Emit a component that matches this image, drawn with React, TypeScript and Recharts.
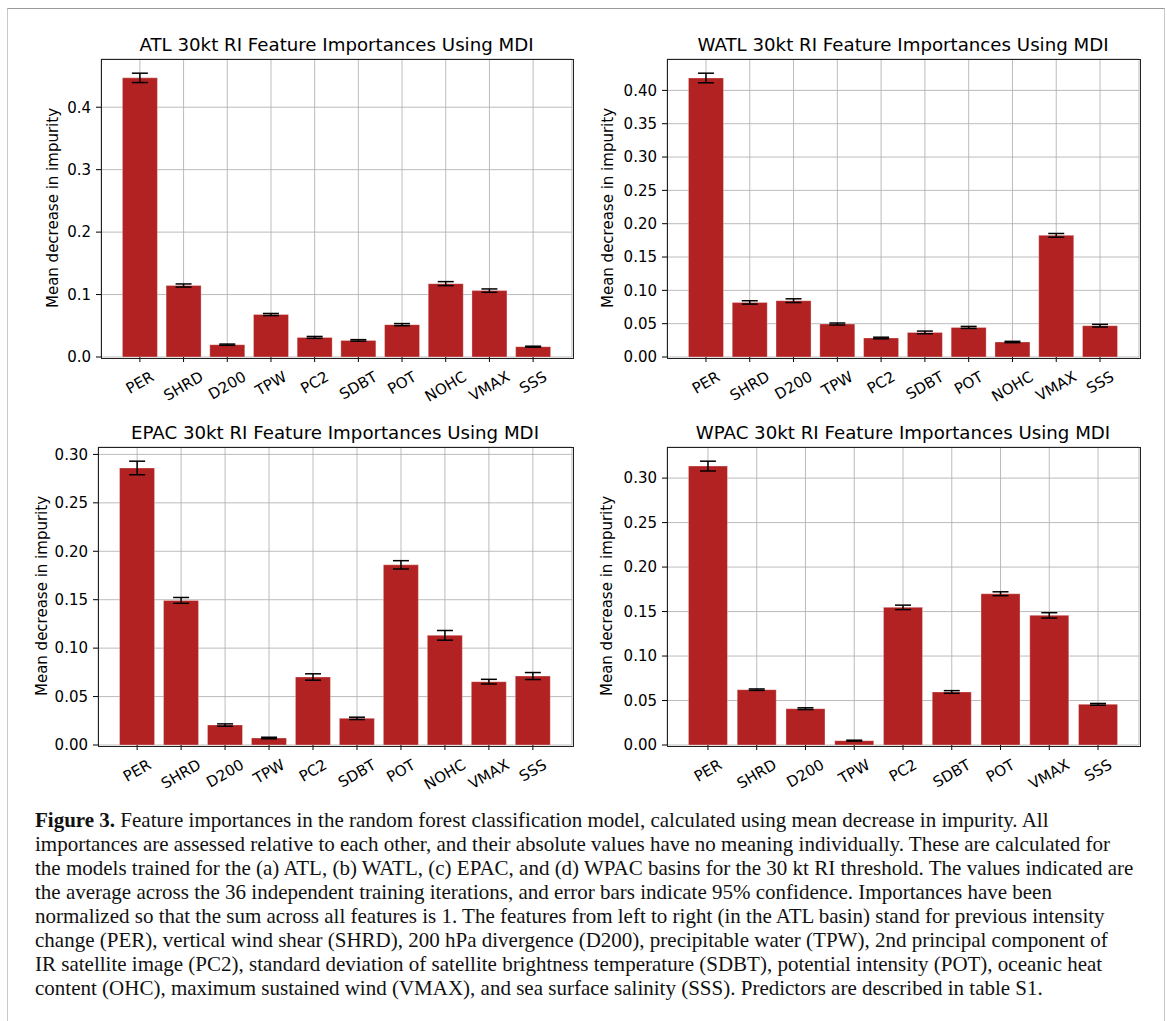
import React from "react";
import { BarChart, Bar, Line, ErrorBar, XAxis, YAxis, CartesianGrid } from "recharts";

// feature order per basin
const atlFeatures = ["PER", "SHRD", "D200", "TPW", "PC2", "SDBT", "POT", "NOHC", "VMAX", "SSS"];
const watlFeatures = ["PER", "SHRD", "D200", "TPW", "PC2", "SDBT", "POT", "NOHC", "VMAX", "SSS"];
const epacFeatures = ["PER", "SHRD", "D200", "TPW", "PC2", "SDBT", "POT", "NOHC", "VMAX", "SSS"];
const wpacFeatures = ["PER", "SHRD", "D200", "TPW", "PC2", "SDBT", "POT", "VMAX", "SSS"];

// mean decrease in impurity (average of 36 runs)
const atlValues = [0.447, 0.1145, 0.0197, 0.068, 0.0314, 0.0266, 0.0518, 0.1175, 0.1063, 0.0165];
const watlValues = [0.4186, 0.0819, 0.0845, 0.0495, 0.0285, 0.0369, 0.0444, 0.0225, 0.1825, 0.047];
const epacValues = [0.286, 0.1493, 0.0206, 0.0072, 0.0702, 0.0275, 0.186, 0.1132, 0.0654, 0.0712];
const wpacValues = [0.3135, 0.0622, 0.0408, 0.0049, 0.1547, 0.0596, 0.17, 0.1457, 0.0457];

// 95% confidence half-widths
const atlErrors = [0.0075, 0.0025, 0.001, 0.0017, 0.0015, 0.0012, 0.0017, 0.0032, 0.0027, 0.0008];
const watlErrors = [0.0072, 0.0025, 0.0028, 0.0015, 0.0012, 0.002, 0.0015, 0.001, 0.0028, 0.002];
const epacErrors = [0.007, 0.003, 0.0012, 0.0008, 0.0033, 0.0012, 0.0043, 0.005, 0.0024, 0.0036];
const wpacErrors = [0.0055, 0.0008, 0.001, 0.0005, 0.0025, 0.0015, 0.0022, 0.003, 0.001];

const atlTicks = [0, 0.1, 0.2, 0.3, 0.4];
const watlTicks = [0, 0.05, 0.1, 0.15, 0.2, 0.25, 0.3, 0.35, 0.4];
const epacTicks = [0, 0.05, 0.1, 0.15, 0.2, 0.25, 0.3];
const wpacTicks = [0, 0.05, 0.1, 0.15, 0.2, 0.25, 0.3];

const captionLines = [
  "importances are assessed relative to each other, and their absolute values have no meaning individually. These are calculated for",
  "the models trained for the (a) ATL, (b) WATL, (c) EPAC, and (d) WPAC basins for the 30 kt RI threshold. The values indicated are",
  "the average across the 36 independent training iterations, and error bars indicate 95% confidence. Importances have been",
  "normalized so that the sum across all features is 1. The features from left to right (in the ATL basin) stand for previous intensity",
  "change (PER), vertical wind shear (SHRD), 200 hPa divergence (D200), precipitable water (TPW), 2nd principal component of",
  "IR satellite image (PC2), standard deviation of satellite brightness temperature (SDBT), potential intensity (POT), oceanic heat",
  "content (OHC), maximum sustained wind (VMAX), and sea surface salinity (SSS). Predictors are described in table S1.",
];

const FONT = "'DejaVu Sans', sans-serif";
const TICK_FS = 15;

// rough DejaVu Sans advance widths (em) for the tick labels
const CHAR_W: Record<string, number> = {
  P: 0.603, E: 0.632, R: 0.695, S: 0.635, H: 0.752, D: 0.77, "2": 0.636, "0": 0.636,
  T: 0.611, W: 0.989, C: 0.698, B: 0.686, O: 0.787, N: 0.748, V: 0.684, M: 0.863, A: 0.684,
};

function XTick(props: any) {
  const { x, y, payload } = props;
  const label = String(payload.value);
  let w = 0;
  for (const ch of label) w += (CHAR_W[ch] ?? 0.65) * TICK_FS;
  const cy = y + w * 0.25 + 11.5;
  return (
    <text
      x={x}
      y={cy}
      transform={`rotate(-30, ${x}, ${cy})`}
      textAnchor="middle"
      dominantBaseline="central"
      fontSize={TICK_FS}
      fontFamily={FONT}
      fill="#000"
    >
      {label}
    </text>
  );
}

type Rect = { left: number; top: number; width: number; height: number };

function Panel({ title, features, values, errors, ticks, decimals, plot, labelX }: {
  title: string; features: string[]; values: number[]; errors: number[]; ticks: number[];
  decimals: number; plot: Rect; labelX: number;
}) {
  const data = features.map((name, i) => ({ name, value: values[i], err: errors[i] }));
  const top = Math.max(...values.map((v, i) => v + errors[i])) * 1.05;
  const n = features.length;
  // matplotlib-like x margins: 5% of the data span on both sides
  const unit = plot.width / ((n - 0.2) * 1.1);
  const pad = (0.05 * n - 0.11) * unit;
  const yw = 90;
  const mt = 10;
  const xh = 60;
  return (
    <>
      <div style={{
        position: "absolute", left: plot.left, top: plot.top - 25, width: plot.width, height: 22,
        lineHeight: "22px", textAlign: "center", fontFamily: FONT, fontSize: 18.2, color: "#000",
        whiteSpace: "nowrap",
      }}>{title}</div>
      <div style={{
        position: "absolute", left: labelX - 150, top: plot.top + plot.height / 2 - 10, width: 300,
        height: 20, lineHeight: "20px", textAlign: "center", fontFamily: FONT, fontSize: TICK_FS,
        color: "#000", transform: "rotate(-90deg)", whiteSpace: "nowrap",
      }}>Mean decrease in impurity</div>
      <div style={{ position: "absolute", left: plot.left - yw, top: plot.top - mt }}>
        <BarChart
          width={yw + plot.width + 10}
          height={mt + plot.height + xh}
          data={data}
          margin={{ top: mt, right: 10, bottom: 0, left: 0 }}
          barCategoryGap="10%"
        >
          <XAxis
            dataKey="name"
            type="category"
            interval={0}
            padding={{ left: pad, right: pad }}
            height={xh}
            axisLine={false}
            tickSize={5}
            tickLine={{ stroke: "#000", strokeWidth: 1 }}
            tick={<XTick />}
          />
          <YAxis
            type="number"
            domain={[0, top]}
            ticks={ticks}
            width={yw}
            axisLine={false}
            tickSize={5}
            tickMargin={5}
            tickLine={{ stroke: "#000", strokeWidth: 1 }}
            tickFormatter={(v: number) => v.toFixed(decimals)}
            tick={{ fontSize: TICK_FS, fontFamily: FONT, fill: "#000" }}
          />
          <Bar dataKey="value" fill="#b22222" stroke="rgba(255,255,255,0.3)" strokeWidth={1} isAnimationActive={false} />
          <CartesianGrid stroke="#b0b0b0" strokeOpacity={0.85} strokeWidth={1} />
          <Line dataKey="value" stroke="none" dot={false} activeDot={false} legendType="none" isAnimationActive={false}>
            <ErrorBar dataKey="err" direction="y" width={8} strokeWidth={1.5} stroke="#000" />
          </Line>
        </BarChart>
      </div>
      <div style={{
        position: "absolute", left: plot.left - 0.5, top: plot.top - 0.5, width: plot.width,
        height: plot.height, border: "1px solid #222", pointerEvents: "none",
      }} />
    </>
  );
}

export default function App() {
  return (
    <div style={{ position: "relative", width: 1167, height: 1021, background: "#fff", overflow: "hidden" }}>
      <style>{"body{margin:0;overflow:hidden}"}</style>
      <div style={{
        position: "absolute", left: 7, top: 8, width: 1156, height: 1030,
        borderTop: "1px solid #999", borderLeft: "1px solid #c8c8c8", borderRight: "1px solid #c8c8c8",
      }} />
      <Panel title="ATL 30kt RI Feature Importances Using MDI" features={atlFeatures} values={atlValues}
        errors={atlErrors} ticks={atlTicks} decimals={1}
        plot={{ left: 101, top: 59, width: 471, height: 298 }} labelX={53} />
      <Panel title="WATL 30kt RI Feature Importances Using MDI" features={watlFeatures} values={watlValues}
        errors={watlErrors} ticks={watlTicks} decimals={2}
        plot={{ left: 667, top: 59, width: 472, height: 298 }} labelX={608} />
      <Panel title="EPAC 30kt RI Feature Importances Using MDI" features={epacFeatures} values={epacValues}
        errors={epacErrors} ticks={epacTicks} decimals={2}
        plot={{ left: 98, top: 447, width: 474, height: 298 }} labelX={42} />
      <Panel title="WPAC 30kt RI Feature Importances Using MDI" features={wpacFeatures} values={wpacValues}
        errors={wpacErrors} ticks={wpacTicks} decimals={2}
        plot={{ left: 667, top: 447, width: 472, height: 298 }} labelX={607} />
      <div style={{
        position: "absolute", left: 35, top: 807.5, fontFamily: "'Liberation Serif', serif", fontSize: 21,
        lineHeight: "24px", color: "#111",
      }}>
        <div style={{ whiteSpace: "nowrap" }}>
          <b>Figure 3.</b> Feature importances in the random forest classification model, calculated using mean decrease in impurity. All
        </div>
        {captionLines.map((t) => (
          <div key={t} style={{ whiteSpace: "nowrap" }}>{t}</div>
        ))}
      </div>
    </div>
  );
}
